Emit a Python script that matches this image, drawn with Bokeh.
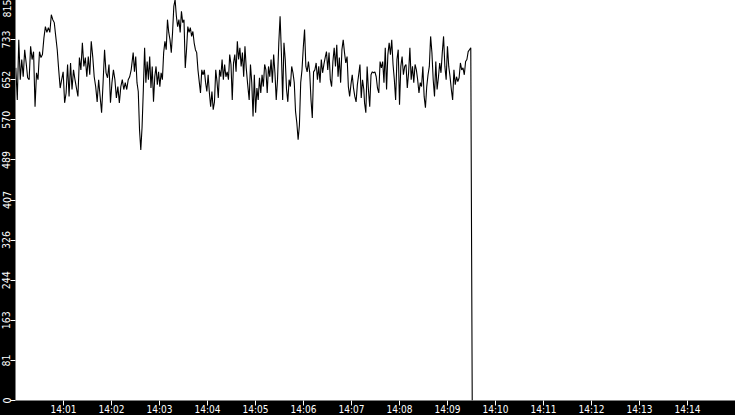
import numpy as np
from bokeh.plotting import figure
from bokeh.models import Range1d, FixedTicker
from bokeh.embed import file_html
from bokeh.resources import INLINE

# values, in four consecutive stretches of the record
seg_a = [676, 611, 733, 652, 693, 658, 713, 686, 656, 652,
         720, 693, 709, 597, 666, 652, 709, 697, 703, 737,
         760, 748, 758, 748, 784, 774, 768, 740, 713, 672,
         635, 652, 668, 605, 625, 683, 618, 686, 632, 672,
         652, 635, 618, 697, 672, 727, 679, 697, 658, 699,
         662, 730, 699, 658, 638, 607, 652, 618, 585, 646,
         713, 666, 656, 683, 605, 646, 672, 652, 615, 638,
         605, 638, 652, 632, 646, 632, 652, 658, 672]
seg_b = [707, 668, 699, 646, 628, 550, 509, 556, 632, 717,
         646, 689, 652, 699, 635, 679, 607, 658, 679, 642,
         668, 638, 666, 652, 707, 730, 713, 774, 748, 733,
         707, 748, 801, 815, 781, 760, 774, 748, 791, 768,
         774, 676, 713, 760, 748, 758, 740, 750, 727, 713,
         707, 672, 648, 625, 672, 662, 672, 646, 628, 662,
         625, 597, 628, 591, 607, 672, 648, 615, 672, 658,
         693, 652, 683, 658, 668, 652, 703, 683, 611, 686,
         703, 668, 730, 693, 717, 679, 707, 658, 720, 676, 646]
seg_c = [611, 683, 646, 577, 662, 585, 635, 611, 656, 625,
         662, 638, 683, 672, 625, 679, 658, 693, 646, 703,
         666, 611, 652, 727, 781, 707, 611, 727, 693, 632,
         607, 652, 638, 679, 666, 646, 587, 564, 530, 560,
         646, 672, 717, 754, 679, 668, 689, 666, 611, 574,
         668, 672, 686, 652, 679, 646, 693, 666, 683, 697,
         709, 672, 707, 652, 638, 689, 717, 679, 723, 658,
         697, 646, 713, 733, 707, 686, 699, 638, 618, 642,
         662, 635, 618, 607, 642, 662, 683, 615, 652, 632]
seg_d = [605, 585, 679, 632, 597, 662, 668, 666, 668, 658,
         635, 625, 689, 676, 689, 646, 717, 632, 703, 727,
         703, 733, 683, 652, 611, 693, 713, 601, 679, 699,
         662, 679, 683, 635, 666, 717, 652, 679, 646, 683,
         672, 652, 625, 646, 638, 679, 618, 595, 638, 662,
         679, 740, 707, 652, 618, 689, 632, 656, 686, 666,
         707, 740, 679, 652, 720, 679, 658, 632, 611, 672,
         642, 658, 648, 656, 686, 672, 676, 662, 689, 693,
         709, 713, 717]
# time span (seconds after 14:00:00) covered by each stretch
seg_start = [0.4, 147.1, 292.1, 436.3]
seg_end = [144.6, 290.0, 435.4, 569.1]
# final sample: the signal drops to zero
end_time = 570.9
end_value = 0

x_start, x_end = 0, 900          # 14:00 .. 14:15
x_tick_seconds = [60, 120, 180, 240, 300, 360, 420, 480, 540, 600, 660, 720, 780, 840]
x_tick_labels = ["14:01", "14:02", "14:03", "14:04", "14:05", "14:06", "14:07",
                 "14:08", "14:09", "14:10", "14:11", "14:12", "14:13", "14:14"]
y_max = 815
y_tick_labels = ["0", "81", "163", "244", "326", "407", "489", "570", "652", "733", "815"]

segs = [seg_a, seg_b, seg_c, seg_d]
t = []
v = []
for s, a, b in zip(segs, seg_start, seg_end):
    t.extend(np.linspace(a, b, len(s)).tolist())
    v.extend(s)
t.append(end_time)
v.append(end_value)

FONT = "DejaVu Sans Condensed"

p = figure(frame_width=720, frame_height=401, output_backend="svg", toolbar_location=None,
           x_range=Range1d(x_start, x_end), y_range=Range1d(0, y_max),
           min_border_left=0, min_border_bottom=0, min_border_top=0, min_border_right=0,
           background_fill_color="white", border_fill_color="black",
           outline_line_color=None)
p.grid.visible = False

p.line(t, v, line_color="black", line_width=1.1)

y_ticks = [y_max * i / 10 for i in range(11)]

xa = p.xaxis[0]
xa.ticker = FixedTicker(ticks=x_tick_seconds, minor_ticks=[])
xa.major_label_overrides = dict(zip(x_tick_seconds, x_tick_labels))
ya = p.yaxis[0]
ya.ticker = FixedTicker(ticks=y_ticks, minor_ticks=[])
ya.major_label_overrides = dict(zip(y_ticks, y_tick_labels))
ya.major_label_orientation = "vertical"

for ax in (xa, ya):
    ax.axis_line_color = None
    ax.major_tick_line_color = "white"
    ax.major_tick_in = 0
    ax.minor_tick_line_color = None
    ax.major_label_text_color = "white"
    ax.major_label_text_font = FONT
    ax.major_tick_out = 5
xa.major_label_text_font_size = "10px"
xa.major_label_standoff = -2
ya.major_label_text_font_size = "10.5px"
ya.major_label_standoff = 0

html = file_html(p, INLINE)
css = ("<style>html,body{margin:0;padding:0;background:#000;overflow:hidden;}"
       "body{width:735px;height:415px;margin-top:-1px;display:flex;"
       "justify-content:flex-end;align-items:flex-start;}"
       "body *{flex-shrink:0;}</style></head>")
html = html.replace("</head>", css, 1)
open("out.html", "w").write(html)
